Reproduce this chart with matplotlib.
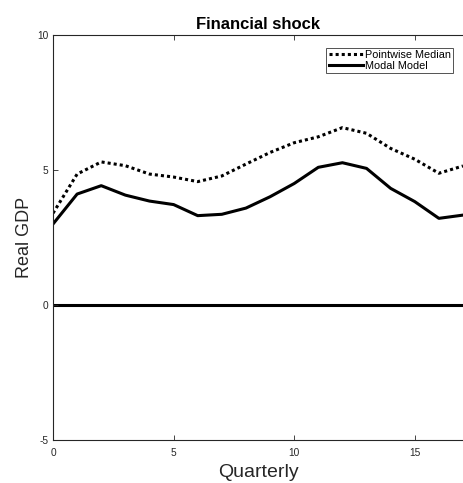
import numpy as np
import matplotlib
matplotlib.use("Agg")
import matplotlib.pyplot as plt

plt.rcParams['font.family'] = ['Liberation Sans', 'DejaVu Sans']
plt.rcParams['axes.unicode_minus'] = False

quarters = np.arange(0, 18)
pointwise_median = [3.4, 4.85, 5.3, 5.16, 4.85, 4.74, 4.57, 4.78, 5.22, 5.65,
                    6.01, 6.23, 6.57, 6.36, 5.8, 5.4, 4.88, 5.15]
modal_model = [3.0, 4.11, 4.42, 4.07, 3.85, 3.72, 3.31, 3.36, 3.59, 4.01,
               4.5, 5.1, 5.27, 5.06, 4.32, 3.83, 3.21, 3.33]

fig = plt.figure(figsize=(4.63, 4.83), dpi=100)
ax = fig.add_axes([0.1145, 0.089, 0.8855, 0.8385])

ax.axhline(0, color='black', linewidth=2.2, zorder=1)
ax.plot(quarters, pointwise_median, color='black', linewidth=2.2,
        linestyle=(0, (1, 1)), label='Pointwise Median')
ax.plot(quarters, modal_model, color='black', linewidth=2.2, label='Modal Model')

ax.set_xlim(0, 17)
ax.set_ylim(-5, 10)
ax.set_xticks([0, 5, 10, 15])
ax.set_yticks([-5, 0, 5, 10])

grey = '#262626'
for s in ax.spines.values():
    s.set_color(grey)
    s.set_linewidth(0.8)
ax.spines['right'].set_visible(False)
ax.tick_params(direction='in', top=True, right=False, length=3.5, width=0.6,
               labelsize=7.3, colors=grey, labelcolor=grey)
ax.tick_params(axis='x', pad=6)

ax.set_title('Financial shock', fontsize=12, fontweight='bold', pad=4)
ax.set_xlabel('Quarterly', fontsize=14, color=grey, labelpad=4)
ax.set_ylabel('Real GDP', fontsize=13, color=grey, labelpad=3)

leg = ax.legend(loc='upper right', fontsize=7.8, frameon=True, fancybox=False,
                edgecolor=grey, handlelength=3.2, handletextpad=0.15,
                borderpad=0.2, labelspacing=0.05, borderaxespad=0,
                bbox_to_anchor=(0.9756, 0.968))
leg.get_frame().set_linewidth(0.7)

fig.savefig('out.png', dpi=100)
